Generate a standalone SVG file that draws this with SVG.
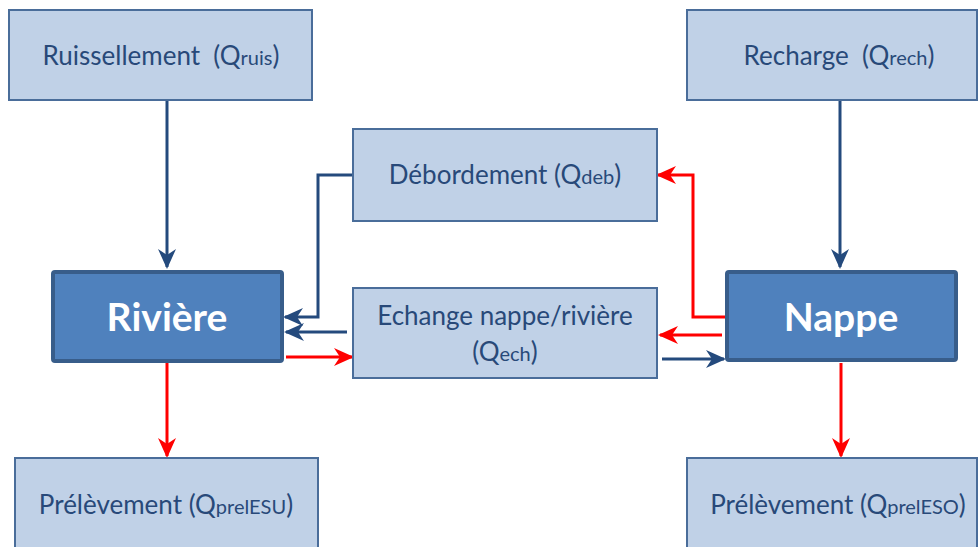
<svg xmlns="http://www.w3.org/2000/svg" width="980" height="547" viewBox="0 0 980 547">
<style>
.box{fill:#c0d1e7;stroke:#4a6d9a;stroke-width:2}
.main{fill:#4f81bd;stroke:#385d8a;stroke-width:4}
.lbl{font-family:Lato,"Open Sans","Liberation Sans",sans-serif;font-size:26px;fill:#284979;text-anchor:middle;white-space:pre}
.sub{font-size:20px}
.big{font-family:Lato,"Open Sans","Liberation Sans",sans-serif;font-size:39px;font-weight:bold;fill:#ffffff;text-anchor:middle}
.b{fill:none;stroke:#244a7d;stroke-width:3}
.r{fill:none;stroke:#ff0000;stroke-width:3}
</style>
<defs>
<marker id="ab" markerUnits="userSpaceOnUse" markerWidth="20" markerHeight="20" viewBox="0 0 20 20" refX="18" refY="10" orient="auto">
<path d="M0,1 L20,10 L0,19 L6,10 z" fill="#244a7d"/>
</marker>
<marker id="ar" markerUnits="userSpaceOnUse" markerWidth="20" markerHeight="20" viewBox="0 0 20 20" refX="18" refY="10" orient="auto">
<path d="M0,1 L20,10 L0,19 L6,10 z" fill="#ff0000"/>
</marker>
</defs>
<g id="connectors">
<path class="b" d="M167,100 V267" marker-end="url(#ab)"/>
<path class="b" d="M840,100 V267" marker-end="url(#ab)"/>
<path class="r" d="M167,363 V456" marker-end="url(#ar)"/>
<path class="r" d="M841,363 V456" marker-end="url(#ar)"/>
<path class="b" d="M353,175 H318 V317 H285" stroke-width="2.5" marker-end="url(#ab)"/>
<path class="b" d="M347,332 H286" marker-end="url(#ab)"/>
<path class="r" d="M286,357 H352" marker-end="url(#ar)"/>
<path class="r" d="M725,317 H693 V175 H658" stroke-width="2.5" marker-end="url(#ar)"/>
<path class="r" d="M722,335 H660" marker-end="url(#ar)"/>
<path class="b" d="M662,359 H724" marker-end="url(#ab)"/>
</g>
<g id="ruissellement">
<rect class="box" x="9" y="10" width="303" height="90"/>
<text class="lbl" x="161" y="65">Ruissellement  (Q<tspan class="sub">ruis</tspan>)</text>
</g>
<g id="recharge">
<rect class="box" x="687" y="10" width="290" height="90"/>
<text class="lbl" x="839" y="65">Recharge  (Q<tspan class="sub">rech</tspan>)</text>
</g>
<g id="debordement">
<rect class="box" x="353" y="129" width="304" height="92"/>
<text class="lbl" x="505" y="184">Débordement (Q<tspan class="sub">deb</tspan>)</text>
</g>
<g id="echange">
<rect class="box" x="353" y="288" width="304" height="90"/>
<text class="lbl" x="505" y="325">Echange nappe/rivière</text>
<text class="lbl" x="505" y="361">(Q<tspan class="sub">ech</tspan>)</text>
</g>
<g id="riviere">
<rect class="main" x="53" y="272" width="229" height="89" rx="2"/>
<text class="big" x="167" y="331">Rivière</text>
</g>
<g id="nappe">
<rect class="main" x="727" y="272" width="229" height="88" rx="2"/>
<text class="big" x="841" y="331">Nappe</text>
</g>
<g id="prelesu">
<rect class="box" x="15" y="458" width="303" height="100"/>
<text class="lbl" x="166" y="514">Prélèvement (Q<tspan class="sub">prelESU</tspan>)</text>
</g>
<g id="preleso">
<rect class="box" x="687" y="458" width="290" height="100"/>
<text class="lbl" x="838" y="514">Prélèvement (Q<tspan class="sub">prelESO</tspan>)</text>
</g>
</svg>
